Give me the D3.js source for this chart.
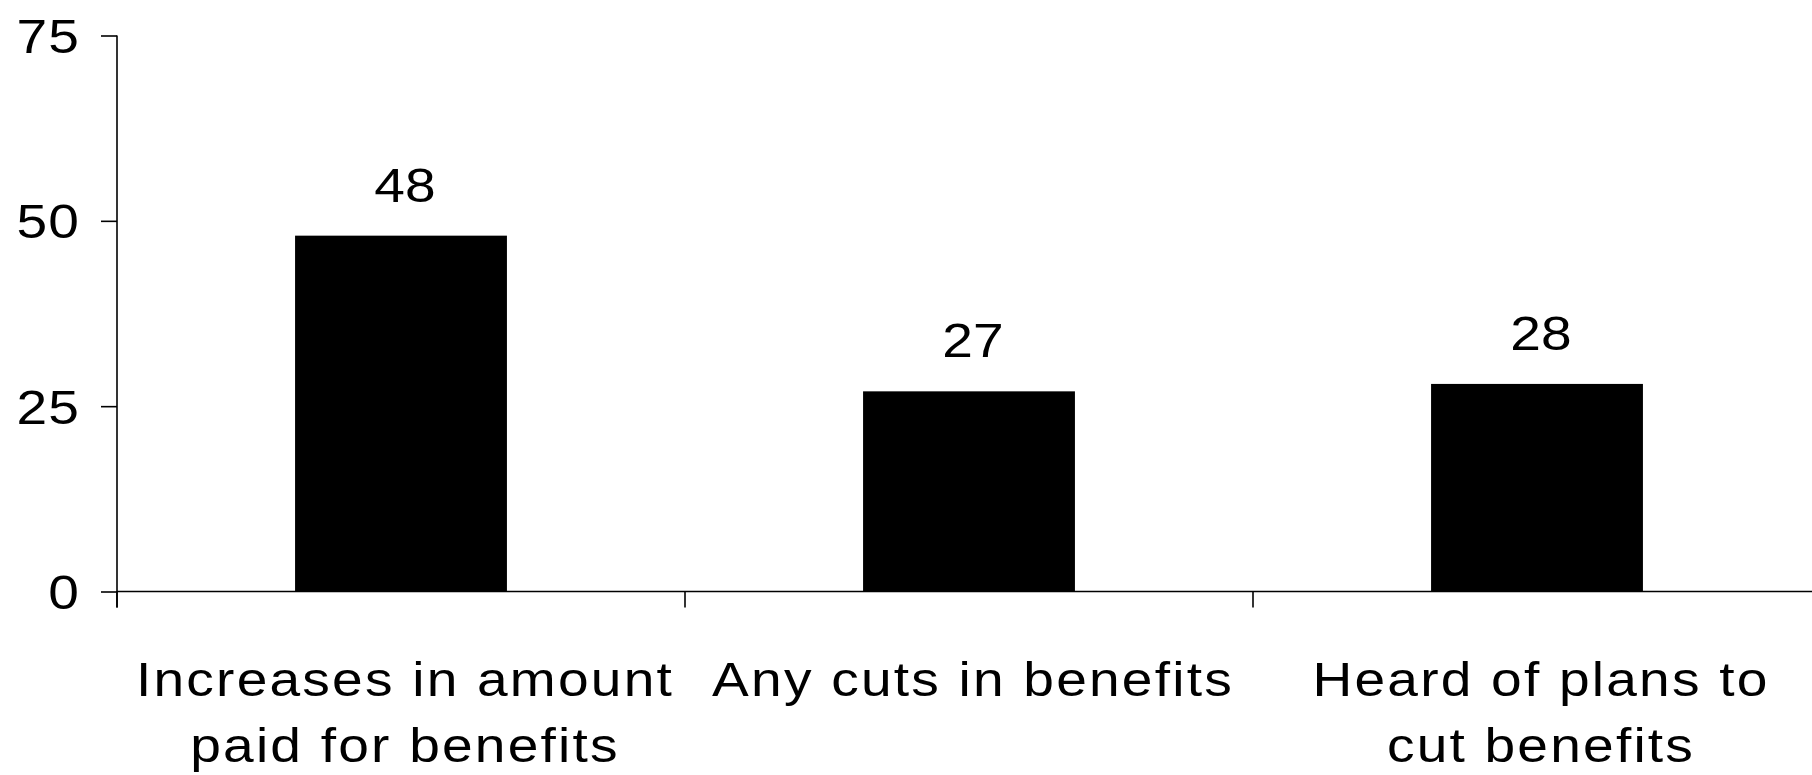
<!DOCTYPE html>
<html>
<head>
<meta charset="utf-8">
<script src="https://cdn.jsdelivr.net/npm/d3@7"></script>
<style>
  html, body { margin: 0; padding: 0; background: #fff; }
  svg { display: block; }
  text { font-family: "Liberation Sans", Arial, sans-serif; fill: #000; }
</style>
</head>
<body>
<script>
// ---- data ----
const categories = ["Increases in amount paid for benefits", "Any cuts in benefits", "Heard of plans to cut benefits"];
const categoryLines = [["Increases in amount", "paid for benefits"], ["Any cuts in benefits"], ["Heard of plans to", "cut benefits"]];
const values = [48, 27, 28];
const yTicks = [0, 25, 50, 75];

// ---- layout ----
const W = 1812, H = 775;
const left = 117, step = 568, baseY = 591.5, topY = 35.5;
const fontSize = 47.5, stretch = 1.16;

const svg = d3.select("body").append("svg").attr("width", W).attr("height", H);

const x = d3.scaleBand().domain(categories)
  .range([left, left + step * categories.length])
  .paddingInner(0.627).paddingOuter(0.3135);
const y = d3.scaleLinear().domain([0, 75]).range([baseY, topY]);

// bars
svg.append("g").selectAll("rect").data(values).join("rect")
  .attr("x", (d, i) => x(categories[i]))
  .attr("y", d => y(d))
  .attr("width", x.bandwidth())
  .attr("height", d => y(0) - y(d))
  .attr("fill", "#000");

// value labels
svg.append("g").selectAll("text").data(values).join("text")
  .attr("transform", (d, i) => `translate(${x(categories[i]) + x.bandwidth() / 2 + 4},${y(d) - 34}) scale(${stretch},1)`)
  .attr("text-anchor", "middle")
  .attr("font-size", fontSize)
  .text(d => d);

// y axis
const yAxis = svg.append("g").attr("transform", `translate(${left},0)`)
  .call(d3.axisLeft(y).tickValues(yTicks).tickSize(16).tickPadding(0).tickSizeOuter(0));
yAxis.select(".domain").attr("stroke", "#000").attr("stroke-width", 1.6)
  .attr("d", `M0,${topY}V${baseY + 16}`);
yAxis.selectAll(".tick line").attr("stroke", "#000").attr("stroke-width", 1.6);
yAxis.selectAll(".tick text")
  .attr("font-size", fontSize)
  .attr("font-family", '"Liberation Sans", Arial, sans-serif')
  .attr("x", -37 / stretch)
  .attr("dy", "0.36em")
  .attr("letter-spacing", 1)
  .attr("transform", `scale(${stretch},1)`);

// x axis (ticks at category boundaries)
const xg = svg.append("g");
xg.append("line")
  .attr("x1", left).attr("x2", left + step * categories.length)
  .attr("y1", y(0)).attr("y2", y(0))
  .attr("stroke", "#000").attr("stroke-width", 1.6);
xg.selectAll("line.tick").data(categories).join("line")
  .attr("class", "tick")
  .attr("x1", d => x(d) - x.step() * x.paddingOuter())
  .attr("x2", d => x(d) - x.step() * x.paddingOuter())
  .attr("y1", y(0)).attr("y2", y(0) + 16)
  .attr("stroke", "#000").attr("stroke-width", 1.6);

// category labels
const lab = svg.append("g").selectAll("text").data(categories).join("text")
  .attr("transform", d => `translate(${x(d) + x.bandwidth() / 2 + 4},696) scale(${stretch},1)`)
  .attr("text-anchor", "middle")
  .attr("font-size", fontSize)
  .attr("letter-spacing", 1.9);
lab.each(function(d, i) {
  const t = d3.select(this);
  categoryLines[i].forEach((ln, j) => {
    t.append("tspan").attr("x", 0).attr("y", j * 66).text(ln);
  });
});
</script>
</body>
</html>
